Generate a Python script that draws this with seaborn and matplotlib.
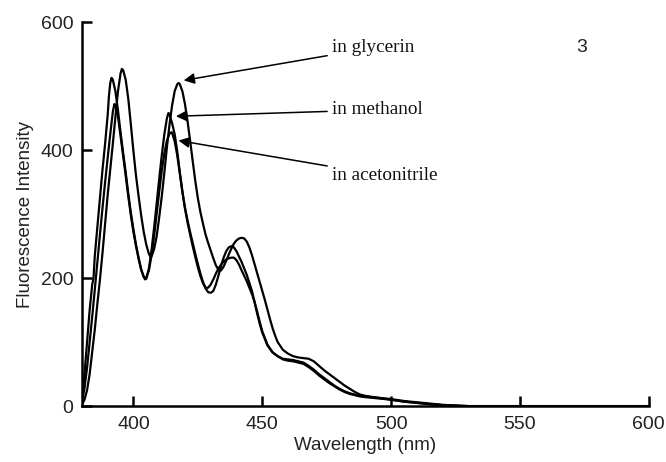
import matplotlib
matplotlib.use("Agg")
import matplotlib.pyplot as plt
import seaborn as sns
import pandas as pd

# ---- data ----
wl_glycerin = [380, 381, 382, 383, 384, 385, 386, 387, 388, 389, 390, 391, 392, 393, 394, 395, 395.5, 396,
               397, 398, 399, 400, 401, 402, 403, 404, 405, 406, 406.6, 407, 408, 409, 410, 411, 412, 413,
               414, 415, 416, 417, 417.5, 418, 419, 420, 421, 422, 423, 424, 425, 426, 427, 428, 429, 430,
               431, 432, 433, 433.5, 434, 435, 436, 437, 438, 439, 440, 441, 442, 443, 444, 445, 446, 447,
               448, 449, 450, 451, 452, 453, 454, 455, 456, 458, 460, 462, 464, 466, 468, 470, 472, 474,
               476, 478, 480, 482, 484, 486, 488, 490, 495, 500, 505, 510, 515, 520, 525, 530, 600]
int_glycerin = [2, 10, 25, 50, 85, 120, 160, 198, 240, 285, 330, 370, 410, 452, 492, 520, 527, 525,
                510, 480, 440, 398, 360, 328, 298, 272, 252, 238, 233, 234, 245, 265, 295, 328, 365, 405,
                440, 470, 492, 503, 505, 503, 492, 472, 445, 415, 383, 352, 325, 303, 285, 268, 255, 243,
                231, 220, 213, 211, 212, 218, 227, 237, 246, 254, 259, 262, 263, 262, 257, 248, 236, 222,
                208, 194, 180, 166, 151, 136, 122, 110, 100, 88, 82, 78, 76, 75, 74, 70, 63, 56,
                50, 44, 38, 32, 27, 22, 18, 16, 13, 11, 8, 6, 4, 2, 1, 0, 0]

wl_methanol = [380, 381, 382, 383, 384, 384.5, 385, 386, 387, 388, 389, 390, 390.5, 391, 391.5, 392, 393, 394,
               395, 396, 397, 398, 399, 400, 401, 402, 403, 404, 404.5, 405, 406, 407, 408, 409, 410, 411,
               412, 413, 413.6, 414, 415, 416, 417, 418, 419, 420, 421, 422, 423, 424, 425, 426, 427, 428,
               429, 430, 431, 432, 433, 434, 435, 436, 437, 438, 439, 440, 442, 444, 446, 447, 448, 449,
               450, 452, 454, 456, 458, 460, 462, 464, 466, 468, 470, 472, 474, 476, 478, 480, 482, 484,
               486, 488, 490, 495, 500, 505, 510, 515, 520, 525, 530, 600]
int_methanol = [10, 50, 100, 150, 190, 200, 235, 280, 325, 370, 410, 455, 485, 505, 513, 510, 492, 462,
                428, 396, 365, 332, 302, 276, 252, 232, 214, 202, 198, 199, 215, 243, 278, 316, 355, 392,
                425, 450, 458, 456, 442, 425, 398, 365, 335, 310, 290, 272, 255, 238, 222, 207, 194, 184,
                178, 177, 180, 190, 204, 219, 232, 242, 248, 250, 248, 242, 225, 205, 180, 163, 145, 129,
                115, 95, 84, 78, 74, 73, 72, 70, 68, 63, 57, 50, 44, 38, 32, 27, 23, 20,
                18, 16, 15, 13, 10, 7, 5, 3, 1.5, 0.5, 0, 0]

wl_acetonitrile = [380, 381, 382, 383, 384, 385, 386, 387, 388, 389, 390, 391, 392, 392.6, 393, 394, 395, 396,
                   397, 398, 399, 400, 401, 402, 403, 404, 404.5, 405, 406, 407, 408, 409, 410, 411, 412, 413,
                   414, 414.8, 415, 416, 417, 418, 419, 420, 421, 422, 423, 424, 425, 426, 427, 428, 429, 430,
                   431, 432, 433, 434, 435, 436, 437, 438, 439, 440, 441, 442, 444, 446, 447, 448, 449, 450,
                   452, 454, 456, 458, 460, 462, 464, 466, 468, 470, 472, 474, 476, 478, 480, 482, 484, 486,
                   488, 490, 495, 500, 505, 510, 515, 520, 525, 530, 600]
int_acetonitrile = [6, 28, 60, 100, 140, 182, 225, 268, 310, 350, 388, 425, 460, 472, 470, 452, 422, 391,
                    360, 328, 298, 272, 250, 230, 213, 202, 200, 201, 212, 235, 265, 300, 335, 368, 395, 415,
                    426, 428, 427, 414, 392, 364, 335, 309, 287, 268, 250, 233, 217, 203, 192, 185, 185, 190,
                    198, 207, 215, 221, 226, 229, 231, 232, 232, 228, 221, 212, 195, 175, 163, 148, 132, 117,
                    96, 84, 78, 73, 71, 70, 68, 66, 61, 55, 48, 42, 36, 31, 26, 22, 19, 17,
                    15, 14, 12, 10, 7, 5, 3, 1.5, 0.5, 0, 0]

solvents = ["in glycerin", "in methanol", "in acetonitrile"]
arrow_tips = [(419.5, 509), (416.5, 453), (417.5, 415)]
label_pos = [(477, 560), (477, 463), (477, 360)]
panel_label = "3"
x_ticks = [400, 450, 500, 550, 600]
y_ticks = [0, 200, 400, 600]

frames = []
for name, wl, it in zip(solvents,
                        [wl_glycerin, wl_methanol, wl_acetonitrile],
                        [int_glycerin, int_methanol, int_acetonitrile]):
    frames.append(pd.DataFrame({"Wavelength": wl, "Intensity": it, "Solvent": name}))
df = pd.concat(frames, ignore_index=True)

# ---- figure ----
sns.set_theme(style="ticks")
plt.rcParams["font.family"] = ["Liberation Sans", "DejaVu Sans"]

fig = plt.figure(figsize=(6.66, 4.62), dpi=100)
ax = fig.add_axes([0.123, 0.121, 0.851, 0.831])

sns.lineplot(data=df, x="Wavelength", y="Intensity", hue="Solvent",
             palette=["black"] * 3, estimator=None, sort=False,
             linewidth=1.6, legend=False, ax=ax)

ax.set_xlim(380, 600)
ax.set_ylim(0, 600)
ax.set_xticks(x_ticks)
ax.set_yticks(y_ticks)
ax.tick_params(direction="in", length=7, width=1.8, colors="black",
               labelsize=14, labelcolor="#222222")
ax.tick_params(axis="x", pad=7)
ax.tick_params(axis="y", pad=6)
for s in ["top", "right"]:
    ax.spines[s].set_visible(False)
for s in ["left", "bottom"]:
    ax.spines[s].set_linewidth(1.8)
    ax.spines[s].set_color("black")

ax.set_xlabel("Wavelength (nm)", fontsize=13.5, color="#222222", labelpad=3)
ax.set_ylabel("Fluorescence Intensity", fontsize=13.5, color="#222222", labelpad=5)

for name, tip, pos in zip(solvents, arrow_tips, label_pos):
    ax.annotate(name, xy=tip, xytext=pos, textcoords="data",
                fontsize=13.8, family=["Liberation Serif", "DejaVu Serif"],
                ha="left", va="center", color="#111111",
                arrowprops=dict(arrowstyle="-|>", color="black", lw=1.1,
                                mutation_scale=16, shrinkA=1, shrinkB=0))

ax.text(574, 560, panel_label, fontsize=14, ha="center", va="center", color="#222222")

fig.savefig("out.png", dpi=100)
